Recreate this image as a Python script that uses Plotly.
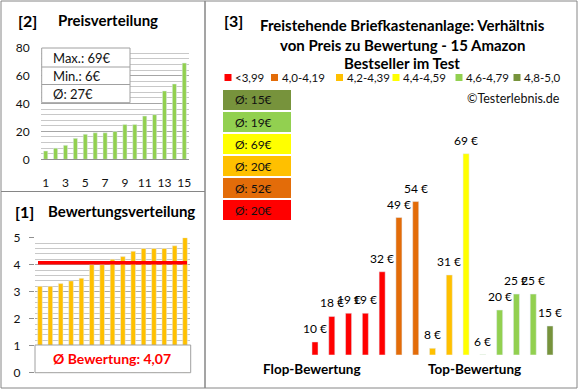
import plotly.graph_objects as go

# ---------------- data ----------------
ratings = [3.2, 3.2, 3.3, 3.4, 3.5, 4.0, 4.0, 4.2, 4.3, 4.5, 4.6, 4.6, 4.6, 4.7, 5.0]
prices = [10, 18, 19, 19, 32, 49, 54, 8, 31, 69, 6, 20, 25, 25, 15]
class_labels = ["<3,99", "4,0-4,19", "4,2-4,39", "4,4-4,59", "4,6-4,79", "4,8-5,0"]
class_bounds = [0, 4.0, 4.2, 4.4, 4.6, 4.8]
class_colors = ["#FF0000", "#E36C09", "#FFC000", "#FFFF00", "#92D050", "#77933C"]
positions = list(range(1, 16))

FONT = "Lato"
W, H = 579, 390


def px(x):
    return x / W


def py(y):
    return 1 - y / H


def cls(r):
    k = 0
    for i, b in enumerate(class_bounds):
        if r >= b:
            k = i
    return k


sorted_prices = sorted(prices)
avg_price = sum(prices) / len(prices)
avg_rating = sum(ratings) / len(ratings)
bar_colors = [class_colors[cls(r)] for r in ratings]

fig = go.Figure()

# ---- [2] Preisverteilung ----
fig.add_trace(go.Bar(x=positions, y=sorted_prices, marker_color="#92D050", width=0.42,
                     xaxis="x", yaxis="y", showlegend=False))
# ---- [1] Bewertungsverteilung ----
fig.add_trace(go.Bar(x=positions, y=ratings, marker_color="#FFC000", width=0.45,
                     xaxis="x2", yaxis="y2", showlegend=False))
# ---- [3] Preis zu Bewertung ----
fig.add_trace(go.Bar(x=positions, y=prices, marker_color=bar_colors, width=0.36,
                     xaxis="x3", yaxis="y3", showlegend=False))

grid_major = "#a6a6a6"
grid_minor = "#c8c8c8"
tickfont = dict(family=FONT, size=12, color="#111111")

fig.update_layout(
    width=W, height=H, margin=dict(l=0, r=0, t=0, b=0, autoexpand=False),
    paper_bgcolor="white", plot_bgcolor="white",
    bargap=0,
    xaxis=dict(domain=[px(40.75), px(189.25)], range=[0.5, 15.5], tickvals=list(range(1, 16, 2)),
               showgrid=False, showline=True, linecolor="#909090", ticks="", automargin=False,
               tickfont=tickfont, ticklabelstandoff=12, anchor="y"),
    yaxis=dict(domain=[py(159.3), py(47.7)], range=[0, 80], dtick=20, showgrid=True,
               gridcolor=grid_major, minor=dict(dtick=4, showgrid=True, gridcolor=grid_minor),
               zeroline=False, ticks="", tickfont=tickfont, ticklabelstandoff=10, automargin=False,
               anchor="x"),
    xaxis2=dict(domain=[px(34.8), px(190.2)], range=[0.5, 15.5], showticklabels=False,
                showgrid=False, showline=False, ticks="", anchor="y2", automargin=False),
    yaxis2=dict(domain=[py(372.7), py(237.7)], range=[0, 5], dtick=1, showgrid=True,
                gridcolor=grid_major, minor=dict(dtick=0.2, showgrid=True, gridcolor=grid_minor),
                zeroline=False, ticks="outside", ticklen=5, tickcolor="#909090", automargin=False,
                tickfont=tickfont, ticklabelstandoff=6, anchor="x2"),
    xaxis3=dict(domain=[px(306.6), px(558.4)], range=[0.5, 15.5], visible=False, anchor="y3",
                automargin=False),
    yaxis3=dict(domain=[py(354.7), py(118.6)], range=[6, 80], visible=False, anchor="x3",
                automargin=False),
)

shapes = []
annotations = []
border = "#868686"

# panel borders
shapes.append(dict(type="rect", xref="paper", yref="paper", x0=px(1), x1=px(205), y0=py(191.5), y1=py(1),
                   line=dict(color=border, width=1)))
shapes.append(dict(type="rect", xref="paper", yref="paper", x0=px(1), x1=px(205), y0=py(388), y1=py(191.5),
                   line=dict(color=border, width=1)))
shapes.append(dict(type="rect", xref="paper", yref="paper", x0=px(205), x1=px(577), y0=py(388), y1=py(1),
                   line=dict(color=border, width=1)))

# price labels above bars of panel [3]
for x, p in zip(positions, prices):
    annotations.append(dict(text=f"{p} €", xref="x3", yref="y3", x=x, y=p, xanchor="center",
                            yanchor="bottom", yshift=4, showarrow=False,
                            font=dict(family=FONT, size=12, color="#000000")))

# stats box in price panel
stats = [f"Max.: {max(prices)}€", f"Min.: {min(prices)}€", f"Ø: {round(avg_price)}€"]
row_edges = [48, 67, 84.5, 102.7]
shapes.append(dict(type="rect", xref="paper", yref="paper", x0=px(41.7), x1=px(130), y0=py(row_edges[-1]),
                   y1=py(row_edges[0]), fillcolor="white", line=dict(color="#a0a0a0", width=1), layer="above"))
for i, s in enumerate(stats):
    if i > 0:
        shapes.append(dict(type="line", xref="paper", yref="paper", x0=px(41.7), x1=px(130),
                           y0=py(row_edges[i]), y1=py(row_edges[i]), line=dict(color="#a0a0a0", width=1),
                           layer="above"))
    annotations.append(dict(text=s, x=px(51), y=py((row_edges[i] + row_edges[i + 1]) / 2),
                            xanchor="left", font=dict(family=FONT, size=13, color="#111111")))

# rating average line and box
shapes.append(dict(type="line", xref="paper", yref="y2", x0=px(38), x1=px(187), y0=avg_rating, y1=avg_rating,
                   line=dict(color="#FF0000", width=3.5), layer="above"))
shapes.append(dict(type="rect", xref="paper", yref="paper", x0=px(35), x1=px(190.7), y0=py(372.7), y1=py(345),
                   fillcolor="white", line=dict(color="#a0a0a0", width=1), layer="above"))
annotations.append(dict(text=f"<b>Ø Bewertung: {avg_rating:.2f}</b>".replace(".", ","),
                        x=px(112), y=py(358.5), font=dict(family=FONT, size=14, color="#FF0000")))

# panel titles
title_font = dict(family=FONT, size=15, color="#000000")
big = dict(family=FONT, size=16, color="#000000")
sub_font = dict(family=FONT, size=13.5, color="#000000")
annotations += [
    dict(text="<b>[2]</b>", x=px(27), y=py(20), font=big),
    dict(text="<b>Preisverteilung</b>", x=px(108), y=py(20), font=title_font),
    dict(text="<b>[1]</b>", x=px(24), y=py(211.5), font=big),
    dict(text="<b>Bewertungsverteilung</b>", x=px(121), y=py(211.5), font=title_font),
    dict(text="<b>[3]</b>", x=px(233), y=py(20), font=big),
    dict(text="<b>Freistehende Briefkastenanlage: Verhältnis</b>", x=px(402), y=py(25), font=title_font),
    dict(text="<b>von Preis zu Bewertung - 15 Amazon</b>", x=px(402), y=py(45), font=title_font),
    dict(text="<b>Bestseller im Test</b>", x=px(402), y=py(63.5), font=title_font),
    dict(text="<b>Flop-Bewertung</b>", x=px(312), y=py(369), font=sub_font),
    dict(text="<b>Top-Bewertung</b>", x=px(474), y=py(369), font=sub_font),
    dict(text="©Testerlebnis.de", x=px(562), y=py(98), xanchor="right",
         font=dict(family=FONT, size=12.5, color="#111111")),
]

# legend of rating classes
leg_sq_x = [228, 274.5, 339.5, 396, 459, 517]
for i, (lab, col) in enumerate(zip(class_labels, class_colors)):
    cx = leg_sq_x[i]
    shapes.append(dict(type="rect", xref="paper", yref="paper", x0=px(cx - 3.5), x1=px(cx + 3.5),
                       y0=py(81), y1=py(74), fillcolor=col, line=dict(width=0)))
    annotations.append(dict(text=lab, x=px(cx + 5), y=py(77.5), xanchor="left",
                            font=dict(family=FONT, size=11.5, color="#111111")))

# average price boxes per class (top: best class)
for j, k in enumerate(range(len(class_labels) - 1, -1, -1)):
    vals = [p for p, r in zip(prices, ratings) if cls(r) == k]
    avg = round(sum(vals) / len(vals)) if vals else 0
    top = 90 + j * 22
    shapes.append(dict(type="rect", xref="paper", yref="paper", x0=px(223), x1=px(291),
                       y0=py(top + 20), y1=py(top), fillcolor=class_colors[k], line=dict(width=0)))
    annotations.append(dict(text=f"Ø: {avg}€", x=px(233), y=py(top + 10), xanchor="left",
                            font=dict(family=FONT, size=12, color="#111111")))

for a in annotations:
    a.setdefault("xref", "paper")
    a.setdefault("yref", "paper")
    a.setdefault("showarrow", False)
    a.setdefault("xanchor", "center")
    a.setdefault("yanchor", "middle")

fig.update_layout(shapes=shapes, annotations=annotations)
fig.write_html("out.html", config={"displayModeBar": False, "staticPlot": True},
               post_script="document.documentElement.style.margin='0';document.body.style.margin='0';"
                           "document.body.style.padding='0';")
